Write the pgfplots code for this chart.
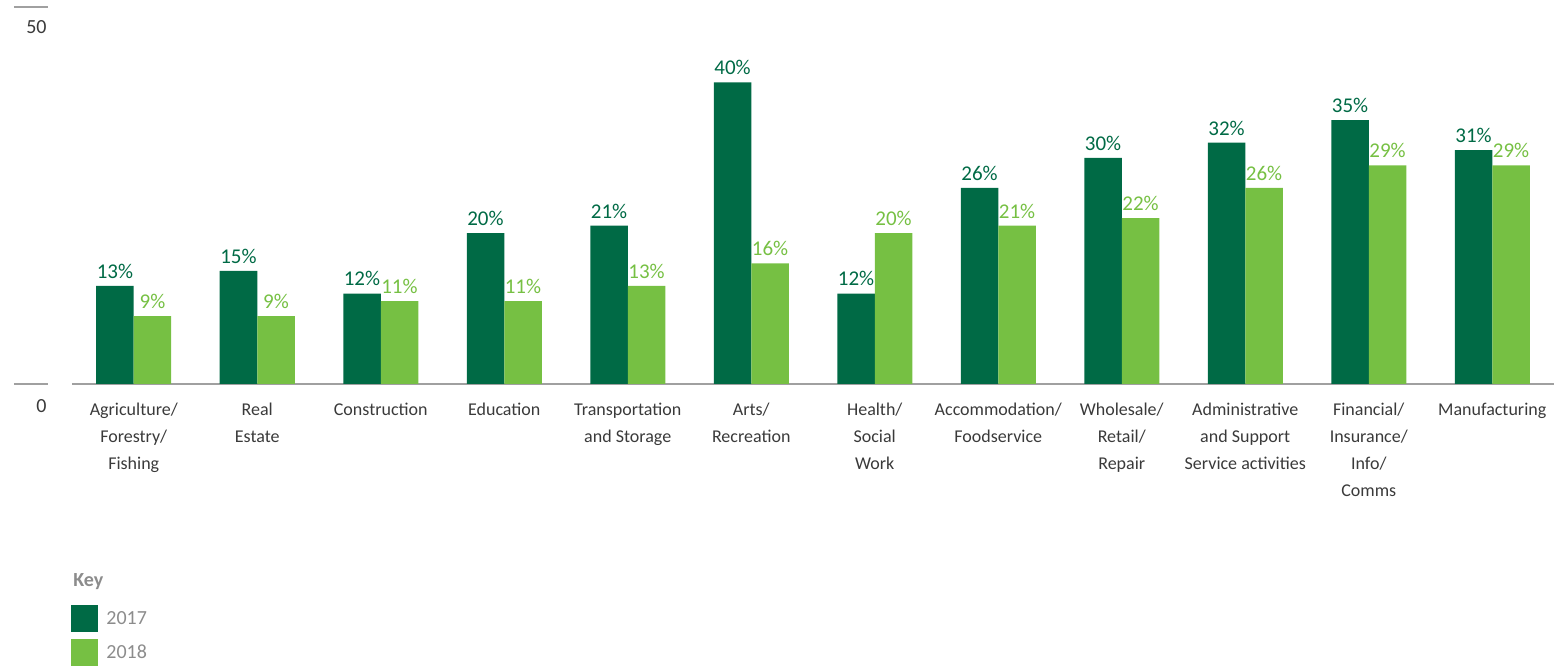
\documentclass[border=0pt]{standalone}
\usepackage{pgfplots}
\pgfplotsset{compat=1.18}
\usepackage{fontspec}
\setmainfont{Carlito}
\definecolor{dk}{HTML}{006A45}
\definecolor{lt}{HTML}{76C043}
\definecolor{axgray}{HTML}{A0A0A0}
\definecolor{txt}{HTML}{3A3A3A}
\definecolor{keygray}{HTML}{8C8C8C}
\begin{document}
\begin{tikzpicture}
\begin{axis}[
  name=ax, scale only axis, width=741pt, height=188.5pt,
  xmin=-0.5, xmax=11.5, ymin=0, ymax=50,
  axis y line=none, axis x line*=bottom,
  x axis line style={axgray, line width=0.8pt, -},
  xtick style={draw=none}, ymajorticks=false,
  ybar=0pt, bar width=18.75pt,
  xtick={0,...,11},
  xticklabels={{Agriculture/\\Forestry/\\Fishing},{Real\\Estate},{Construction},{Education},{Transportation\\and Storage},{Arts/\\Recreation},{Health/\\Social\\Work},{Accommodation/\\Foodservice},{Wholesale/\\Retail/\\Repair},{Administrative\\and Support\\Service activities},{Financial/\\Insurance/\\Info/\\Comms},{Manufacturing}},
  xticklabel style={font=\fontsize{9}{13.5}\selectfont, text=txt, align=center, anchor=north, inner sep=0pt, yshift=-5pt},
  /pgf/number format/assume math mode=true,
  nodes near coords={\pgfmathprintnumber{\pgfplotspointmeta}\%},
  nodes near coords style={font=\fontsize{10.5}{12}\selectfont, anchor=south, inner sep=0pt, yshift=3.5pt},
  clip=false,
]
\addplot[fill=dk, draw=none, every node near coord/.append style={text=dk}] coordinates {
  (0,13) (1,15) (2,12) (3,20) (4,21) (5,40) (6,12) (7,26) (8,30) (9,32) (10,35) (11,31)};
\addplot[fill=lt, draw=none, every node near coord/.append style={text=lt}] coordinates {
  (0,9) (1,9) (2,11) (3,11) (4,13) (5,16) (6,20) (7,21) (8,22) (9,26) (10,29) (11,29)};
\draw[axgray, line width=0.8pt] ([xshift=-29pt]axis cs:-0.5,50) -- ([xshift=-12pt]axis cs:-0.5,50);
\draw[axgray, line width=0.8pt] ([xshift=-29pt]axis cs:-0.5,0) -- ([xshift=-12pt]axis cs:-0.5,0);
\node[anchor=base east, inner sep=0pt, text=txt, font=\fontsize{10}{12}\selectfont] at ([xshift=-12.5pt, yshift=-13.5pt]axis cs:-0.5,50) {50};
\node[anchor=base east, inner sep=0pt, text=txt, font=\fontsize{10}{12}\selectfont] at ([xshift=-12.5pt, yshift=-14.5pt]axis cs:-0.5,0) {0};
\end{axis}
\node[anchor=base west, inner sep=0pt, text=keygray, font=\bfseries\fontsize{10}{12}\selectfont] at ([xshift=0.5pt,yshift=-101.5pt]ax.south west) {Key};
\fill[dk] ([xshift=-0.5pt,yshift=-110.5pt]ax.south west) rectangle ([xshift=13pt,yshift=-124pt]ax.south west);
\fill[lt] ([xshift=-0.5pt,yshift=-127.5pt]ax.south west) rectangle ([xshift=13pt,yshift=-141pt]ax.south west);
\node[anchor=base west, inner sep=0pt, text=keygray, font=\fontsize{10}{12}\selectfont] at ([xshift=17pt,yshift=-120.5pt]ax.south west) {2017};
\node[anchor=base west, inner sep=0pt, text=keygray, font=\fontsize{10}{12}\selectfont] at ([xshift=17pt,yshift=-137.5pt]ax.south west) {2018};
\pgfresetboundingbox
\path ([xshift=-36pt,yshift=-141.5pt]ax.south west) rectangle ([xshift=743.5pt,yshift=192pt]ax.south west);
\end{tikzpicture}
\end{document}
